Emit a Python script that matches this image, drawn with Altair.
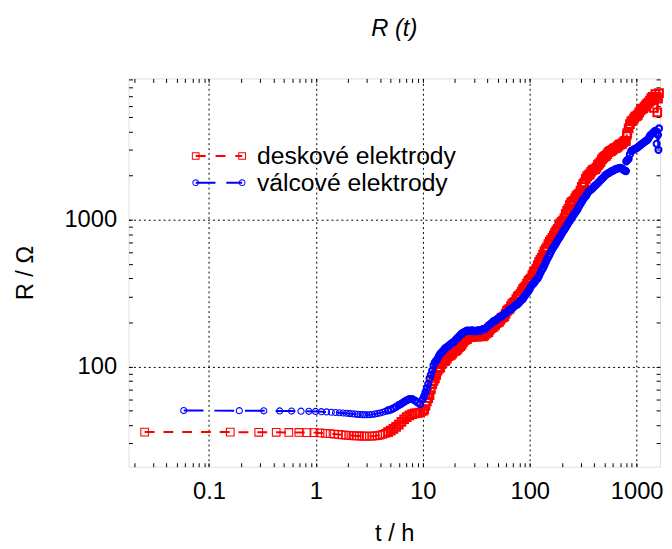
import altair as alt
import pandas as pd

FONT = "Liberation Sans"

# ---- data (t in hours, R in ohms) ----
red_t = [0.025, 0.158, 0.292, 0.425, 0.558, 0.692, 0.825, 0.958,
         1.092, 1.225, 1.358, 1.492, 1.625, 1.758, 1.892, 2.025, 2.158,
         2.292, 2.425, 2.558, 2.692, 2.825, 2.958,
         3.162, 3.350, 3.548, 3.758, 3.981, 4.217, 4.467, 4.732, 5.012, 5.309,
         5.623, 5.957, 6.310, 6.683, 7.079, 7.499, 7.943, 8.414, 8.913, 9.441,
         10.00, 10.59, 11.22, 11.89, 12.59, 13.34, 14.13, 14.96, 15.85, 16.79,
         17.78, 18.84, 19.95, 21.13, 22.39, 23.71, 25.12, 26.61, 28.18, 29.85,
         31.62, 33.50, 35.48, 37.58, 39.81, 42.17, 44.67, 47.32, 50.12, 53.09,
         56.23, 59.57, 63.10, 66.83, 70.79, 74.99, 79.43, 84.14, 89.13, 94.41,
         100.0, 105.9, 112.2, 118.9, 125.9, 133.4, 141.3, 149.6, 158.5, 167.9,
         177.8, 188.4, 199.5, 211.3, 223.9, 237.1, 251.2, 266.1, 281.8, 298.5,
         316.2, 335.0, 354.8, 375.8, 398.1, 421.7, 446.7, 473.2, 501.2, 530.9,
         562.3, 595.7, 631.0, 668.3, 707.9, 749.9, 794.3, 810.0, 841.4, 891.3,
         944.1, 1000, 1059, 1122, 1189, 1259, 1334, 1413, 1450, 1496,
         1560, 1585, 1620]
red_R = [35.8, 35.8, 35.7, 35.7, 35.6, 35.6, 35.5, 35.5,
         35.3, 35.1, 34.9, 34.7, 34.5, 34.3, 34.1, 34.0, 33.9,
         33.8, 33.7, 33.7, 33.6, 33.6, 33.6,
         33.6, 33.6, 33.7, 33.9, 34.2, 34.6, 35.1, 35.8, 36.6, 37.6,
         38.8, 40.3, 42.0, 43.8, 45.3, 46.6, 47.5, 48.0, 48.3, 48.6,
         50, 54, 61, 70, 80, 88, 97, 104, 109, 114,
         119, 123, 128, 132, 138, 146, 153, 158, 160, 161,
         161, 162, 162, 163, 170, 178, 185, 192, 200, 208,
         217, 230, 245, 258, 272, 288, 305, 325, 345, 368,
         390, 420, 450, 490, 535, 580, 630, 685, 730, 785,
         845, 910, 970, 1030, 1150, 1260, 1330, 1400, 1480, 1580,
         1750, 1900, 2020, 2120, 2200, 2270, 2420, 2580, 2700, 2800,
         2930, 3000, 3080, 3170, 3270, 3380, 3450, 3800, 4200, 4700,
         4900, 5100, 5400, 5700, 5900, 6200, 6500, 6900, 5800, 7200,
         5400, 6700, 7300]
# in-between readings of the dense (noisy) part of the red band
red_t_mid = [10.29, 10.90, 11.55, 12.23, 12.96, 13.73, 14.54, 15.40, 16.31, 17.28,
             18.30, 19.39, 20.54, 21.75, 23.04, 24.41, 25.85, 27.38, 29.00, 30.72,
             32.54, 34.47, 36.52, 38.68, 40.97, 43.40, 45.97, 48.70, 51.58, 54.64,
             57.88, 61.31, 64.94, 68.79, 72.86, 77.18, 81.75, 86.60, 91.73, 97.16,
             102.9, 109.0, 115.5, 122.3, 129.6, 137.3, 145.4, 154.0, 163.1, 172.8,
             183.0, 193.9, 205.4, 217.5, 230.4, 244.1, 258.5, 273.8, 290.0, 307.2,
             325.4, 344.7, 365.2, 386.8, 409.7, 434.0, 459.7, 487.0, 515.8, 546.4,
             578.8, 613.1, 649.4, 687.9, 728.6, 771.8, 817.5, 866.0, 917.3, 971.6,
             1029, 1090, 1155, 1223, 1296, 1372, 1454, 1540]
red_R_mid = [51, 58, 64, 76, 83, 94, 99, 108, 110, 118,
             120, 127, 129, 136, 141, 151, 154, 161, 159, 163,
             160, 164, 161, 168, 172, 183, 187, 198, 202, 215,
             220, 240, 248, 268, 276, 300, 312, 338, 353, 382,
             400, 440, 465, 515, 552, 610, 650, 712, 755, 820,
             870, 945, 990, 1100, 1190, 1310, 1350, 1450, 1510, 1680,
             1800, 1980, 2050, 2180, 2220, 2360, 2480, 2660, 2730, 2890,
             2950, 3060, 3110, 3240, 3300, 3440, 3900, 4500, 4750, 5050,
             5200, 5600, 5750, 6050, 6300, 6750, 6600, 6900]

blue_t = [0.058, 0.192, 0.325, 0.458, 0.592, 0.725, 0.858, 0.992,
          1.125, 1.258, 1.392, 1.525, 1.658, 1.792, 1.925, 2.058, 2.192,
          2.325, 2.458, 2.592, 2.725, 2.858, 2.992,
          3.162, 3.350, 3.548, 3.758, 3.981, 4.217, 4.467, 4.732, 5.012, 5.309,
          5.623, 5.957, 6.310, 6.683, 7.079, 7.499, 7.943, 8.414, 8.913, 9.441,
          10.00, 10.59, 11.22, 11.89, 12.59, 13.34, 14.13, 14.96, 15.85, 16.79,
          17.78, 18.84, 19.95, 21.13, 22.39, 23.71, 25.12, 26.61, 28.18, 29.85,
          31.62, 33.50, 35.48, 37.58, 39.81, 42.17, 44.67, 47.32, 50.12, 53.09,
          56.23, 59.57, 63.10, 66.83, 70.79, 74.99, 79.43, 84.14, 89.13, 94.41,
          100.0, 105.9, 112.2, 118.9, 125.9, 133.4, 141.3, 149.6, 158.5, 167.9,
          177.8, 188.4, 199.5, 211.3, 223.9, 237.1, 251.2, 266.1, 281.8, 298.5,
          316.2, 335.0, 354.8, 375.8, 398.1, 421.7, 446.7, 473.2, 501.2, 530.9,
          562.3, 595.7, 631.0, 668.3, 707.9, 749.9, 794.3, 800.0, 841.4, 891.3,
          944.1, 1000, 1059, 1122, 1189, 1259, 1334, 1413, 1496, 1540,
          1585, 1600, 1620]
blue_R = [50.2, 50.1, 50.0, 49.9, 49.8, 49.7, 49.6, 49.5,
          49.3, 49.1, 48.9, 48.7, 48.5, 48.3, 48.1, 47.9, 47.7,
          47.5, 47.3, 47.2, 47.1, 47.0, 47.0,
          47.0, 47.2, 47.5, 47.9, 48.3, 48.9, 49.6, 50.4, 51.0, 52.0,
          53.2, 54.6, 56.0, 57.5, 59.0, 60.2, 60.0, 58.8, 57.0, 55.5,
          60, 67, 76, 88, 102, 110, 118, 125, 131, 136,
          140, 145, 150, 157, 164, 170, 174, 176, 176, 175.5,
          175.5, 176, 178, 180, 186, 193, 200, 206, 212, 218,
          224, 231, 240, 247, 255, 263, 272, 285, 300, 318,
          338, 362, 380, 400, 435, 470, 515, 560, 610, 655,
          700, 750, 806, 860, 920, 985, 1050, 1115, 1190, 1285,
          1380, 1450, 1560, 1610, 1680, 1746, 1820, 1900, 1990, 2060,
          2110, 2160, 2210, 2240, 2260, 2200, 2150, 2500, 2600, 2950,
          3020, 3080, 3180, 3300, 3400, 3500, 3750, 3900, 4050, 3300,
          3800, 3000, 4200]
# in-between readings of the dense (noisy) part of the blue band
blue_t_mid = [10.29, 10.90, 11.55, 12.23, 12.96, 13.73, 14.54, 15.40, 16.31, 17.28,
              18.30, 19.39, 20.54, 21.75, 23.04, 24.41, 25.85, 27.38, 29.00, 30.72,
              32.54, 34.47, 36.52, 38.68, 40.97, 43.40, 45.97, 48.70, 51.58, 54.64,
              57.88, 61.31, 64.94, 68.79, 72.86, 77.18, 81.75, 86.60, 91.73, 97.16,
              102.9, 109.0, 115.5, 122.3, 129.6, 137.3, 145.4, 154.0, 163.1, 172.8,
              183.0, 193.9, 205.4, 217.5, 230.4, 244.1, 258.5, 273.8, 290.0, 307.2,
              325.4, 344.7, 365.2, 386.8, 409.7, 434.0, 459.7, 487.0, 515.8, 546.4,
              578.8, 613.1, 649.4, 687.9, 728.6, 771.8, 817.5, 866.0, 917.3, 971.6,
              1029, 1090, 1155, 1223, 1296, 1372, 1454]
blue_R_mid = [63, 71, 83, 94, 107, 113, 122, 127, 134, 138,
              143, 147, 154, 160, 168, 172, 176, 175, 177, 174,
              177, 176, 180, 182, 190, 196, 204, 208, 216, 220,
              229, 235, 245, 250, 261, 267, 280, 290, 310, 326,
              352, 370, 392, 415, 455, 490, 540, 583, 635, 675,
              728, 775, 835, 888, 955, 1015, 1085, 1150, 1240, 1330,
              1420, 1500, 1590, 1640, 1715, 1780, 1865, 1940, 2030, 2080,
              2140, 2180, 2230, 2250, 2240, 2170, 2550, 2800, 2980, 3050,
              3130, 3250, 3350, 3450, 3600, 3820, 3980]

series_names = ["deskové elektrody", "válcové elektrody"]
series_colors = ["#ff0000", "#0000ff"]

x_major = [0.1, 1, 10, 100, 1000]
y_major = [100, 1000]
x_all_ticks = [0.02, 0.03, 0.04, 0.05, 0.06, 0.07, 0.08, 0.09,
               0.1, 0.2, 0.3, 0.4, 0.5, 0.6, 0.7, 0.8, 0.9,
               1, 2, 3, 4, 5, 6, 7, 8, 9,
               10, 20, 30, 40, 50, 60, 70, 80, 90,
               100, 200, 300, 400, 500, 600, 700, 800, 900, 1000]
y_all_ticks = [30, 40, 50, 60, 70, 80, 90,
               100, 200, 300, 400, 500, 600, 700, 800, 900,
               1000, 2000, 3000, 4000, 5000, 6000, 7000, 8000, 9000]

x_domain = [0.01766, 1656]
y_domain = [20.8, 9200]

# legend key glyphs (dashed line segment with a marker at each end)
red_key = ("M-6.85,-0.975L-4.9,-0.975L-4.9,0.975L-6.85,0.975Z"
           "M-6.6,-0.725L-6.6,0.725L-5.15,0.725L-5.15,-0.725Z"
           "M4.9,-0.975L6.85,-0.975L6.85,0.975L4.9,0.975Z"
           "M5.15,-0.725L5.15,0.725L6.6,0.725L6.6,-0.725Z"
           "M-5.875,-0.25L-3.35,-0.25L-3.35,0.25L-5.875,0.25Z"
           "M-0.85,-0.25L1.65,-0.25L1.65,0.25L-0.85,0.25Z"
           "M4.15,-0.25L5.875,-0.25L5.875,0.25L4.15,0.25Z")
blue_key = ("M-5.025,0A0.85,0.85 0 1,1 -6.725,0A0.85,0.85 0 1,1 -5.025,0Z"
            "M-5.275,0A0.6,0.6 0 1,0 -6.475,0A0.6,0.6 0 1,0 -5.275,0Z"
            "M6.725,0A0.85,0.85 0 1,1 5.025,0A0.85,0.85 0 1,1 6.725,0Z"
            "M6.475,0A0.6,0.6 0 1,0 5.275,0A0.6,0.6 0 1,0 6.475,0Z"
            "M-5.875,-0.25L-0.875,-0.25L-0.875,0.25L-5.875,0.25Z"
            "M1.875,-0.25L5.875,-0.25L5.875,0.25L1.875,0.25Z")

red = pd.concat([pd.DataFrame({"t": red_t, "R": red_R}),
                 pd.DataFrame({"t": red_t_mid, "R": red_R_mid})]).sort_values("t")
blue = pd.concat([pd.DataFrame({"t": blue_t, "R": blue_R}),
                  pd.DataFrame({"t": blue_t_mid, "R": blue_R_mid})]).sort_values("t")
legend_df = pd.DataFrame({"series": series_names})

xs = alt.Scale(type="log", domain=x_domain, nice=False)
ys = alt.Scale(type="log", domain=y_domain, nice=False)

W, H = 538, 393

label_x = alt.Axis(orient="bottom", values=x_major, format="~g",
                   grid=True, gridColor="black", gridDash=[2, 3], gridWidth=1, gridOpacity=1,
                   ticks=False, tickSize=0, domain=False,
                   labelFont=FONT, labelFontSize=24, labelColor="black",
                   labelBaseline="alphabetic", labelPadding=32, labelFlush=False, labelOverlap=False,
                   title="t / h", titleFont=FONT, titleFontSize=24, titleFontWeight="normal",
                   titleColor="black", titleX=W / 2, titleY=75, titleAlign="center",
                   titleBaseline="alphabetic")
label_y = alt.Axis(orient="left", values=y_major, format="~g",
                   grid=True, gridColor="black", gridDash=[2, 3], gridWidth=1, gridOpacity=1,
                   ticks=False, tickSize=0, domain=False,
                   labelFont=FONT, labelFontSize=24, labelColor="black",
                   labelPadding=12, labelFlush=False, labelOverlap=False,
                   title="R / Ω", titleFont=FONT, titleFontSize=24, titleFontWeight="normal",
                   titleColor="black", titleX=-97, titleY=H / 2, titleAlign="center",
                   titleAngle=270, titleBaseline="alphabetic")


def tick_axis(orient, values):
    return alt.Axis(orient=orient, values=values, grid=False, labels=False, domain=False,
                    ticks=True, tickSize=4, tickColor="black", tickWidth=1, offset=-4,
                    title=None)


# thin outlines where the markers stand apart, heavier where they pile up into a band
marker_width = alt.condition("datum.t < 4.5", alt.value(1.1), alt.value(2.1))

red_line = alt.Chart(red).mark_line(color=series_colors[0], strokeWidth=2,
                                    strokeDash=[10, 9]).encode(
    x=alt.X("t:Q", scale=xs, axis=label_x),
    y=alt.Y("R:Q", scale=ys, axis=label_y))

red_pts = alt.Chart(red).mark_point(shape="square", filled=False, size=60,
                                    color=series_colors[0], opacity=1).encode(
    x=alt.X("t:Q", scale=xs, axis=tick_axis("bottom", x_all_ticks)),
    y=alt.Y("R:Q", scale=ys, axis=tick_axis("left", y_all_ticks)),
    strokeWidth=marker_width)

blue_line = alt.Chart(blue).mark_line(color=series_colors[1], strokeWidth=2,
                                      strokeDash=[20, 11]).encode(
    x=alt.X("t:Q", scale=xs, axis=tick_axis("top", x_all_ticks)),
    y=alt.Y("R:Q", scale=ys, axis=tick_axis("right", y_all_ticks)))

blue_pts = alt.Chart(blue).mark_point(shape="circle", filled=False, size=38,
                                      color=series_colors[1], opacity=1).encode(
    x=alt.X("t:Q", scale=xs, axis=None),
    y=alt.Y("R:Q", scale=ys, axis=None),
    strokeWidth=marker_width)

leg = alt.Legend(orient="none", legendX=79, legendY=66, title=None, padding=0,
                 labelFont=FONT, labelFontSize=25, labelColor="black", labelLimit=0,
                 labelOffset=26, rowPadding=1, symbolSize=64, symbolStrokeWidth=0,
                 symbolOffset=0)

legend_layer = alt.Chart(legend_df).transform_filter("false").mark_point(
    filled=True, opacity=1, size=64).encode(
    color=alt.Color("series:N", scale=alt.Scale(domain=series_names, range=series_colors),
                    legend=leg),
    shape=alt.Shape("series:N", scale=alt.Scale(domain=series_names, range=[red_key, blue_key]),
                    legend=leg))

chart = alt.layer(red_line, red_pts, blue_line, blue_pts, legend_layer).resolve_axis(
    x="independent", y="independent"
).properties(
    width=W, height=H,
    title=alt.TitleParams(text="R (t)", font=FONT, fontSize=24, fontStyle="italic",
                          fontWeight="normal", color="black", anchor="middle", frame="group",
                          baseline="alphabetic", offset=18),
    padding={"left": 122, "top": 68, "right": 4, "bottom": 80},
    autosize=alt.AutoSizeParams(type="none"),
).configure_view(stroke="black", strokeWidth=2).configure(background="white")

chart.save("out.html", embed_options={"renderer": "svg", "actions": False})
